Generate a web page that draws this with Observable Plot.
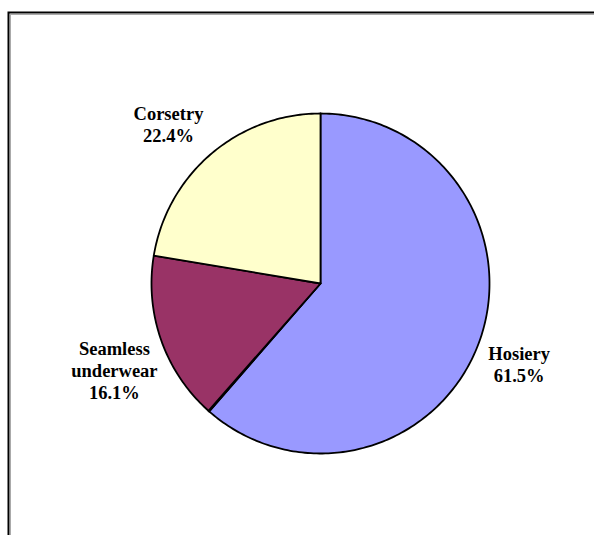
<!DOCTYPE html>
<html>
<head>
<meta charset="utf-8">
<script src="https://cdn.jsdelivr.net/npm/d3@7"></script>
<script src="https://cdn.jsdelivr.net/npm/@observablehq/plot@0.6"></script>
<style>
  html, body { margin: 0; padding: 0; background: #fff; }
  #chart svg { display: block; }
</style>
</head>
<body>
<div id="chart"></div>
<script>
// Data (clockwise from 12 o'clock)
const categories = ["Hosiery", "Other", "Seamless\nunderwear", "Corsetry"];
const shares = [61.5, 0.1, 16.1, 22.4];
const showLabel = [true, false, true, true];
const colors = ["#9999FF", "#E0E0E0", "#993366", "#FFFFCC"];

const rows = categories.map((name, i) => ({name, share: shares[i], color: colors[i], show: showLabel[i]}));
const arcs = d3.pie().sort(null).value(d => d.share)(rows);

// Build wedge outlines from the pie layout
function wedge(a) {
  const pts = [{x: 0, y: 0}];
  const n = Math.max(2, Math.ceil((a.endAngle - a.startAngle) / (Math.PI * 2) * 360));
  for (let k = 0; k <= n; k++) {
    const t = a.startAngle + (a.endAngle - a.startAngle) * k / n;
    pts.push({x: Math.sin(t), y: Math.cos(t)});
  }
  return pts;
}

const labelR = 1.3;
const labelData = arcs.filter(a => a.data.show).map(a => {
  const m = (a.startAngle + a.endAngle) / 2;
  return {x: labelR * Math.sin(m), y: labelR * Math.cos(m), text: `${a.data.name}\n${a.data.share}%`, name: a.data.name};
});
// small label nudges (pixels), like the spreadsheet's label box placement
const nudge = {"Hosiery": [-7, 3], "Seamless\nunderwear": [1, 13], "Corsetry": [-10, 9]};

const textStyle = {
  fontFamily: "'Liberation Serif', 'Times New Roman', 'DejaVu Serif', serif",
  fontWeight: "bold", fontSize: 18.5, lineHeight: 1.19,
  fill: "black", textAnchor: "middle", lineAnchor: "middle"
};

const plot = Plot.plot({
  width: 594,
  height: 535,
  margin: 0,
  x: {domain: [-1, 1], range: [151, 489], axis: null},
  y: {domain: [-1, 1], range: [453, 113], axis: null},
  marks: [
    Plot.frame({stroke: "#aaa", strokeWidth: 1, insetLeft: 10, insetTop: 14, insetRight: -10, insetBottom: -10}),
    Plot.frame({stroke: "black", strokeWidth: 2, insetLeft: 8, insetTop: 12, insetRight: -10, insetBottom: -10}),
    ...arcs.map(a => Plot.line(wedge(a), {
      x: "x", y: "y", fill: a.data.color, stroke: "black", strokeWidth: 1.8,
      strokeLinejoin: "round", curve: "linear-closed"
    })),
    ...labelData.map(d => Plot.text([d], {
      x: "x", y: "y", text: "text", dx: nudge[d.name][0], dy: nudge[d.name][1], ...textStyle
    }))
  ]
});
document.getElementById("chart").append(plot);
</script>
</body>
</html>
